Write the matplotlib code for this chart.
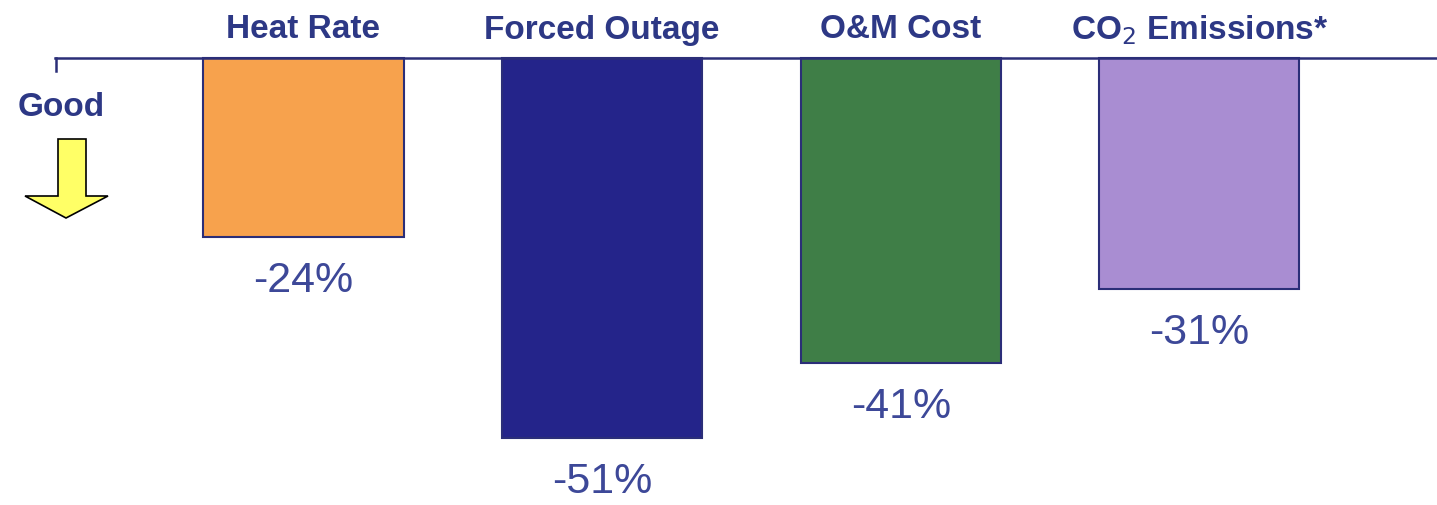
import matplotlib.pyplot as plt
import matplotlib.patches as mpatches

# values
categories = ["Heat Rate", "Forced Outage", "O&M Cost", "CO$_2$ Emissions*"]
changes = [-24, -51, -41, -31]
value_labels = ["-24%", "-51%", "-41%", "-31%"]
bar_colors = ["#F7A24D", "#24248A", "#3F7E47", "#A98DD2"]

W, H = 1437, 505
title_color = "#2D3885"
label_color = "#3D4898"
edge_color = "#2B2E78"

plt.rcParams['font.family'] = ['Liberation Sans', 'DejaVu Sans']

fig = plt.figure(figsize=(W / 100, H / 100), dpi=100)
ax = fig.add_axes([0, 0, 1, 1])

# pixel mapping: bar centres ~303 + 298.6*i, 0% at y=58, ~7.45 px per percent
step = 298.6
x0 = 303.5
ax.set_xlim(-x0 / step, (W - x0) / step)
ppp = 7.45
ax.set_ylim(-(H - 58) / ppp, 58 / ppp)
ax.axis("off")

xs = list(range(len(categories)))
ax.bar(xs, changes, width=0.67, color=bar_colors, edgecolor=edge_color,
       linewidth=1.5, zorder=2)

ax.axhline(0, xmin=55 / W, xmax=1, color=edge_color, linewidth=1.8, zorder=3)

for x, v, lab, cat in zip(xs, changes, value_labels, categories):
    ax.text(x, v - 44 / ppp, lab, ha="center", va="center",
            fontsize=31, color=label_color)
    ax.text(x, 28 / ppp, cat, ha="center", va="center",
            fontsize=24, fontweight="bold", color=title_color)

# overlay in pixel coords for the "Good" marker
deco = fig.add_axes([0, 0, 1, 1])
deco.set_xlim(0, W)
deco.set_ylim(H, 0)
deco.axis("off")
deco.plot([56, 56], [58, 71], color=edge_color, linewidth=1.8)
deco.text(61, 107, "Good", ha="center", va="center", fontsize=24,
          fontweight="bold", color=title_color)
arrow = mpatches.Polygon([(58, 139), (86, 139), (86, 196), (108, 196),
                          (66, 218), (25, 196), (58, 196)],
                         closed=True, facecolor="#FFFF66", edgecolor="black",
                         linewidth=1.2)
deco.add_patch(arrow)

fig.savefig("out.png", dpi=100)
